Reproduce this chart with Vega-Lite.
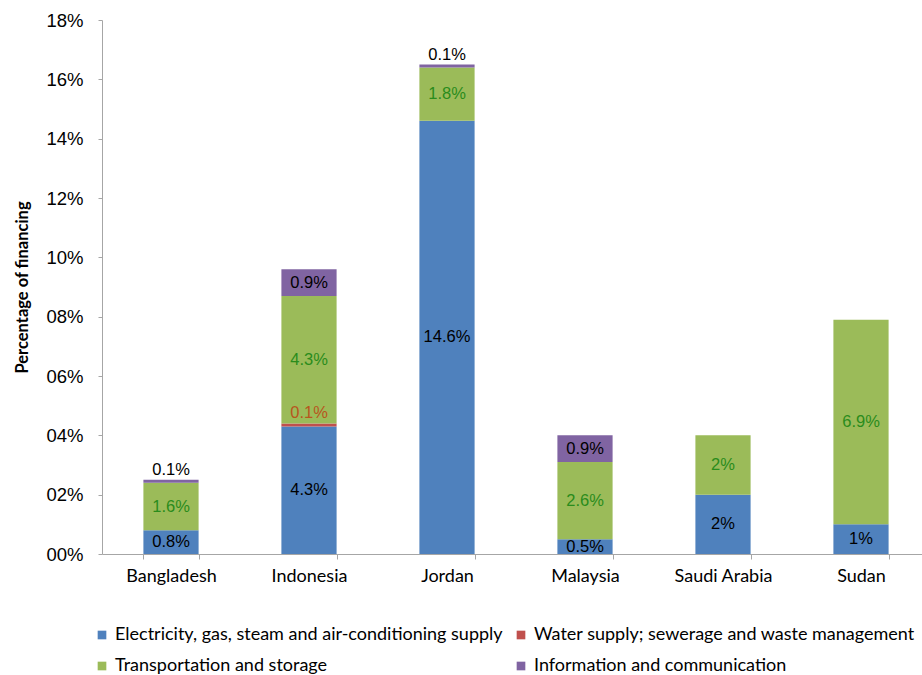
{
  "$schema": "https://vega.github.io/schema/vega-lite/v6.json",
  "width": 820,
  "height": 534,
  "autosize": {"type": "none"},
  "padding": {"left": 102, "top": 20, "right": 0, "bottom": 121},
  "background": "white",
  "config": {
    "view": {"stroke": null},
    "axis": {"grid": false, "domainColor": "#A6A6A6", "tickColor": "#A6A6A6", "labelColor": "#000000"}
  },
  "data": {
    "values": [
      {"country": "Bangladesh", "sector": "Electricity, gas, steam and air-conditioning supply", "isic": "D", "value": 0.008},
      {"country": "Bangladesh", "sector": "Transportation and storage", "isic": "H", "value": 0.016},
      {"country": "Bangladesh", "sector": "Information and communication", "isic": "J", "value": 0.001},
      {"country": "Indonesia", "sector": "Electricity, gas, steam and air-conditioning supply", "isic": "D", "value": 0.043},
      {"country": "Indonesia", "sector": "Water supply; sewerage and waste management", "isic": "E", "value": 0.001},
      {"country": "Indonesia", "sector": "Transportation and storage", "isic": "H", "value": 0.043},
      {"country": "Indonesia", "sector": "Information and communication", "isic": "J", "value": 0.009},
      {"country": "Jordan", "sector": "Electricity, gas, steam and air-conditioning supply", "isic": "D", "value": 0.146},
      {"country": "Jordan", "sector": "Transportation and storage", "isic": "H", "value": 0.018},
      {"country": "Jordan", "sector": "Information and communication", "isic": "J", "value": 0.001},
      {"country": "Malaysia", "sector": "Electricity, gas, steam and air-conditioning supply", "isic": "D", "value": 0.005},
      {"country": "Malaysia", "sector": "Transportation and storage", "isic": "H", "value": 0.026},
      {"country": "Malaysia", "sector": "Information and communication", "isic": "J", "value": 0.009},
      {"country": "Saudi Arabia", "sector": "Electricity, gas, steam and air-conditioning supply", "isic": "D", "value": 0.02},
      {"country": "Saudi Arabia", "sector": "Transportation and storage", "isic": "H", "value": 0.02},
      {"country": "Sudan", "sector": "Electricity, gas, steam and air-conditioning supply", "isic": "D", "value": 0.01},
      {"country": "Sudan", "sector": "Transportation and storage", "isic": "H", "value": 0.069}
    ]
  },
  "encoding": {
    "x": {
      "field": "country",
      "type": "nominal",
      "sort": null,
      "scale": {"range": [0, 828], "paddingInner": 0.6, "paddingOuter": 0.3},
      "axis": {
        "title": null,
        "labelAngle": 0,
        "tickBand": "extent",
        "tickSize": 5,
        "labelFont": "Lato",
        "labelFontSize": 18,
        "labelPadding": 8
      }
    },
    "y": {
      "field": "value",
      "type": "quantitative",
      "stack": "zero",
      "scale": {"domain": [0, 0.18], "nice": false},
      "axis": {
        "title": "Percentage of financing",
        "titleFont": "Lato",
        "titleFontSize": 16.5,
        "titleFontWeight": "bold",
        "titleColor": "#000000",
        "titlePadding": 15,
        "values": [0, 0.02, 0.04, 0.06, 0.08, 0.1, 0.12, 0.14, 0.16, 0.18],
        "format": "03.0%",
        "tickSize": 4,
        "labelPadding": 15,
        "labelFont": "Liberation Sans",
        "labelFontSize": 18.5
      }
    },
    "order": {"field": "isic", "type": "ordinal"},
    "detail": {"field": "sector", "type": "nominal"}
  },
  "layer": [
    {
      "mark": {"type": "bar"},
      "encoding": {
        "color": {
          "field": "sector",
          "type": "nominal",
          "sort": [
            "Electricity, gas, steam and air-conditioning supply",
            "Water supply; sewerage and waste management",
            "Transportation and storage",
            "Information and communication"
          ],
          "scale": {"range": ["#4F81BD", "#C0504D", "#9BBB59", "#8064A2"]},
          "legend": {
            "title": null,
            "orient": "none",
            "direction": "horizontal",
            "legendX": -9,
            "legendY": 606,
            "columns": 2,
            "columnPadding": 9,
            "rowPadding": 13,
            "symbolType": "square",
            "symbolSize": 75,
            "symbolStrokeWidth": 0,
            "labelFont": "Lato",
            "labelFontSize": 18,
            "labelColor": "#000000",
            "labelOffset": 4,
            "labelLimit": 0
          }
        }
      }
    },
    {
      "mark": {"type": "text", "font": "Liberation Sans", "fontSize": 16.5},
      "encoding": {
        "y": {"field": "value", "type": "quantitative", "stack": "zero", "bandPosition": 0.5},
        "text": {
          "condition": {"test": "datum.value >= 0.002", "field": "value", "type": "quantitative", "format": ".1~%"},
          "value": ""
        },
        "color": {
          "condition": [
            {"test": "datum.isic === 'H'", "value": "#2A8C1C"},
            {"test": "datum.isic === 'E'", "value": "#B8561E"}
          ],
          "value": "#000000"
        }
      }
    },
    {
      "mark": {"type": "text", "font": "Liberation Sans", "fontSize": 16.5, "baseline": "bottom", "dy": -2},
      "encoding": {
        "text": {
          "condition": {"test": "datum.value < 0.002", "field": "value", "type": "quantitative", "format": ".1~%"},
          "value": ""
        },
        "color": {
          "condition": [
            {"test": "datum.isic === 'H'", "value": "#2A8C1C"},
            {"test": "datum.isic === 'E'", "value": "#B8561E"}
          ],
          "value": "#000000"
        }
      }
    }
  ]
}
